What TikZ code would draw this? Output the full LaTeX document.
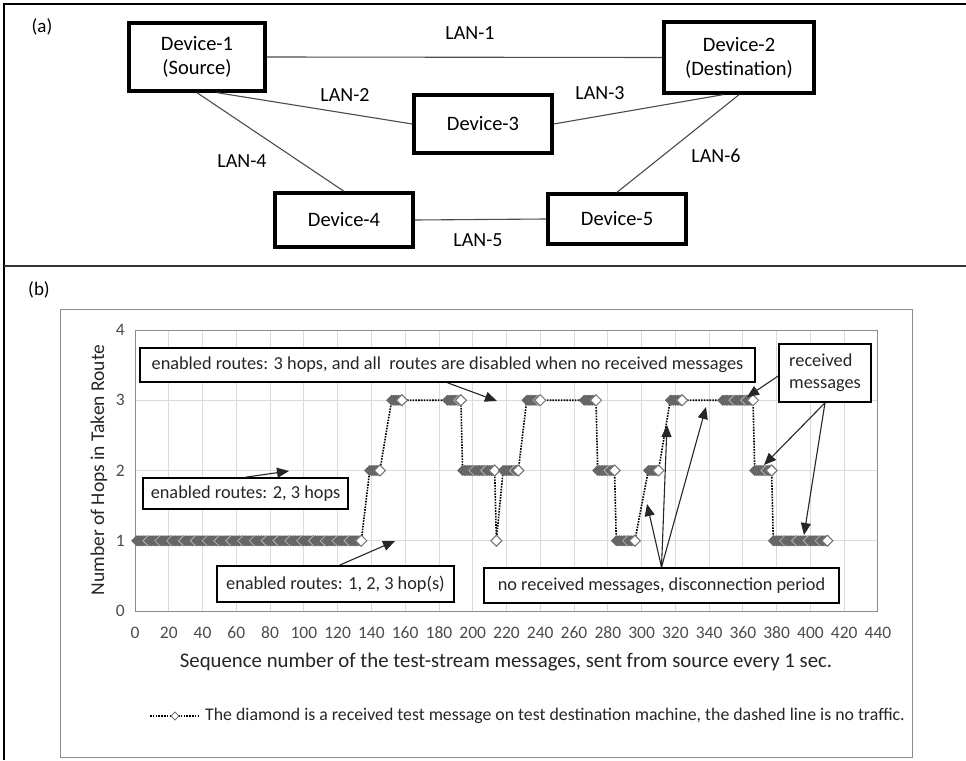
\documentclass[tikz,border=0pt]{standalone}
\usepackage{fontspec}
\setmainfont{Carlito}
\usetikzlibrary{arrows.meta,calc}

% One run of consecutive received messages: #1 first, #2 last sequence number, #3 hop count
\newcommand\runbar[3]{%
  \foreach \s in {#1,...,#2}{%
    \fill[barfill] (\s,#3) ++(-5.5pt,0pt) -- ++(5.5pt,5.5pt) -- ++(5.5pt,-5.5pt) -- ++(-5.5pt,-5.5pt) -- cycle;
  }%
  \foreach \s in {#1,...,#2}{%
    \pgfmathtruncatemacro\chk{mod(\s-#1,7)}%
    \ifnum\chk=0 \ifnum\s>#1 \draw[chevron] (\s,#3) ++(0pt,5.5pt) -- ++(-5.5pt,-5.5pt) -- ++(5.5pt,-5.5pt);\fi\fi
  }%
  \filldraw[endmark] (#2,#3) ++(-5.5pt,0pt) -- ++(5.5pt,5.5pt) -- ++(5.5pt,-5.5pt) -- ++(-5.5pt,-5.5pt) -- cycle;
}

\begin{document}
\begin{tikzpicture}[x=1pt,y=-1pt,
  device/.style={draw=black, line width=3.4pt, fill=white, inner sep=0pt, align=center,
                 font=\fontsize{20.5}{24}\selectfont},
  lan/.style={draw=black!70, line width=1.1pt},
  lanlabel/.style={font=\fontsize{20}{24}\selectfont, inner sep=0pt},
  panellabel/.style={font=\fontsize{19}{22}\selectfont, inner sep=0pt},
  gridline/.style={draw=black!14, line width=0.9pt},
  plotframe/.style={draw=black!45, line width=1pt},
  chartframe/.style={draw=black!45, line width=1pt},
  tick/.style={font=\fontsize{17.5}{20}\selectfont, text=black!70, inner sep=0pt},
  axislabel/.style={font=\fontsize{20.8}{24}\selectfont, text=black!85, inner sep=0pt},
  note/.style={draw=black, line width=1.6pt, fill=white, inner sep=0pt, align=center,
               text=black!85, font=\fontsize{18.3}{22}\selectfont},
  callout/.style={draw=black!85, line width=1.1pt, -{Triangle[length=12pt,width=10pt]}},
  dotline/.style={draw=black, line width=1.6pt, dash pattern=on 1.6pt off 1.2pt},
  barfill/.style={fill=black!60},
  chevron/.style={draw=black!30, line width=0.8pt},
  endmark/.style={fill=white, draw=black!55, line width=1pt},
  legendtext/.style={font=\fontsize{17.8}{21}\selectfont, text=black!85, inner sep=0pt}]

\useasboundingbox (0,0) rectangle (966,760);
\fill[white] (0,0) rectangle (966,760);

% outer frame and panel divider
\draw[black, line width=2.6pt] (4,760) -- (4,4) -- (966,4);
\draw[black!80, line width=1.6pt] (4,266) -- (966,266);

% ---------------- panel (a): network of devices ----------------
\node[panellabel] (pa) at (42,27) {(a)};

\node[device, minimum width=136, minimum height=68] (d1) at (197,57)   {Device-1\\(Source)};
\node[device, minimum width=150, minimum height=71] (d2) at (739,57.5) {Device-2\\(Destination)};
\node[device, minimum width=138, minimum height=58] (d3) at (483,124)  {Device-3};
\node[device, minimum width=138, minimum height=54] (d4) at (344,220)  {Device-4};
\node[device, minimum width=138, minimum height=50] (d5) at (617,219)  {Device-5};

\draw[lan] (d1.east) -- (d2.west);
\draw[lan] ($(d1.south west)!0.645!(d1.south east)$) -- (d3.west);
\draw[lan] (d3.east) -- ($(d2.south west)!0.395!(d2.south east)$);
\draw[lan] (d1.south) -- (d4.north);
\draw[lan] (d4.east) -- (d5.west);
\draw[lan] (d2.south) -- (d5.north);

\node[lanlabel] (l1) at (470,33)  {LAN-1};
\node[lanlabel] (l2) at (345,95)  {LAN-2};
\node[lanlabel] (l3) at (600,93)  {LAN-3};
\node[lanlabel] (l4) at (242,161) {LAN-4};
\node[lanlabel] (l5) at (478,240) {LAN-5};
\node[lanlabel] (l6) at (716,156) {LAN-6};

% ---------------- panel (b): hop count chart ----------------
\node[panellabel] (pb) at (39,290) {(b)};
\draw[chartframe] (60,309) rectangle (912,757);

\begin{scope}[shift={(135pt,-611pt)}, x=1.6886pt, y=70.25pt]
  \foreach \s in {20,40,...,420}
    \draw[gridline] (\s,0) -- (\s,4);
  \foreach \h in {1,2,3}
    \draw[gridline] (0,\h) -- (440,\h);
  \draw[plotframe] (0,0) rectangle (440,4);

  \foreach \s in {0,20,...,440}
    \node[tick, yshift=-22pt] (xt\s) at (\s,0) {\s};
  \foreach \h in {0,...,4}
    \node[tick, anchor=east, xshift=-10pt] (yt\h) at (0,\h) {\h};

  % path taken by the test stream; dotted where no message arrived
  \draw[dotline] (1,1) -- (134,1) -- (139,2) -- (145,2) -- (152,3) -- (158,3)
    -- (185,3) -- (193,3) -- (194,2) -- (213,2) -- (214,1) -- (218,2) -- (227,2)
    -- (232,3) -- (240,3) -- (266,3) -- (273,3) -- (274,2) -- (284,2) -- (285,1)
    -- (296,1) -- (304,2) -- (310,2) -- (317,3) -- (324,3) -- (348,3) -- (366,3)
    -- (367,2) -- (377,2) -- (378,1) -- (410,1);

  \runbar{1}{134}{1}
  \runbar{139}{145}{2}
  \runbar{152}{158}{3}
  \runbar{185}{193}{3}
  \runbar{194}{213}{2}
  \runbar{214}{214}{1}
  \runbar{218}{227}{2}
  \runbar{232}{240}{3}
  \runbar{266}{273}{3}
  \runbar{274}{284}{2}
  \runbar{285}{296}{1}
  \runbar{304}{310}{2}
  \runbar{317}{324}{3}
  \runbar{348}{366}{3}
  \runbar{367}{377}{2}
  \runbar{378}{410}{1}
\end{scope}

\node[axislabel, rotate=90, font=\fontsize{19.5}{23}\selectfont] (ylab) at (99,470) {Number of Hops in Taken Route};
\node[axislabel] (xlab) at (506,662) {Sequence number of the test-stream messages, sent from source every 1 sec.};

% legend
\coordinate (lgA) at (150,716);
\coordinate (lgB) at (200,716);
\draw[dotline, line width=1.1pt] (lgA) -- (lgB);
\filldraw[endmark, line width=0.8pt] (175,716) ++(-4pt,0pt) -- ++(4pt,4pt) -- ++(4pt,-4pt) -- ++(-4pt,-4pt) -- cycle;
\node[legendtext, anchor=west] (lgtext) at (205,716) {The diamond is a received test message on test destination machine, the dashed line is no traffic.};

% annotation boxes
\node[note, minimum width=615, minimum height=34] (e3) at (447.5,365)
  {enabled routes: 3 hops, and all\ \ routes are disabled when no received messages};
\node[note, minimum width=205, minimum height=31] (e2) at (245.5,493.5) {enabled routes: 2, 3 hops};
\node[note, minimum width=237, minimum height=36] (e1) at (335.5,584) {enabled routes: 1, 2, 3 hop(s)};
\node[note, minimum width=355, minimum height=35] (nr) at (661.5,585.5) {no received messages, disconnection period};
\node[note, minimum width=92, minimum height=58, align=left] (rm) at (825,373) {received\\messages};

% arrow targets
\coordinate (t3) at (497,401);
\coordinate (t2) at (289,471);
\coordinate (t1) at (395,541);
\coordinate (n1) at (647,504);
\coordinate (n2) at (667,425);
\coordinate (n3) at (706,407);
\coordinate (r1) at (747,397);
\coordinate (r2) at (764,465);
\coordinate (r3) at (804,535);

\draw[callout] (e3.south) -- (t3);
\draw[callout] (e2.north) -- (t2);
\draw[callout] ($(e1.north)+(4,0)$) -- (t1);
\draw[callout] (nr.north) -- (n1);
\draw[callout] (nr.north) -- (n2);
\draw[callout] (nr.north) -- (n3);
\draw[callout] ($(rm.west)+(0,3)$) -- (r1);
\draw[callout] (rm.south) -- (r2);
\draw[callout] (rm.south) -- (r3);

\end{tikzpicture}
\end{document}
